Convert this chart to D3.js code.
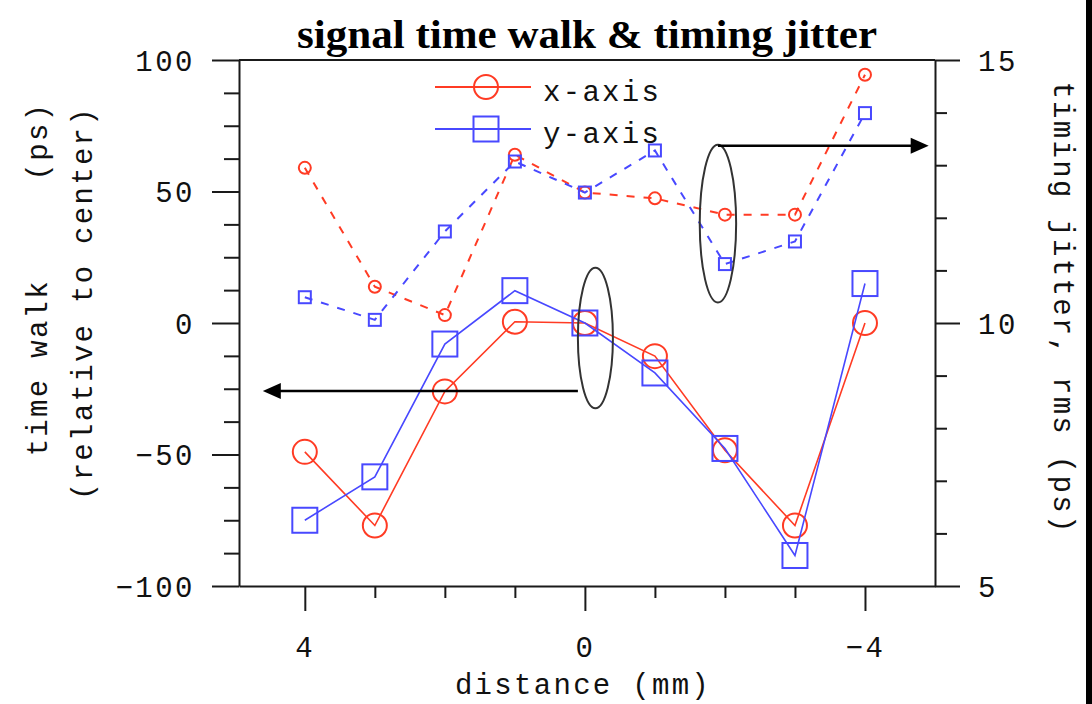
<!DOCTYPE html>
<html>
<head>
<meta charset="utf-8">
<script src="https://cdn.jsdelivr.net/npm/d3@7"></script>
<style>
  html, body { margin: 0; padding: 0; background: #fff; }
  svg { display: block; }
  .mono { font-family: "Liberation Mono", "DejaVu Sans Mono", monospace; }
</style>
</head>
<body>
<svg id="chart" width="1092" height="704"></svg>
<script>
// distance from center (mm)
const distance = [4, 3, 2, 1, 0, -1, -2, -3, -4];
// time walk relative to center (ps), left axis
const walkX = [-49, -77, -26, 0.5, 0, -12.6, -48.4, -77, 0];
const walkY = [-75, -58.5, -8, 12.3, 0, -19, -47.7, -88.4, 15];
// timing jitter, rms (ps), right axis
const jitterX = [12.95, 10.69, 10.15, 13.2, 12.48, 12.37, 12.06, 12.06, 14.72];
const jitterY = [10.49, 10.06, 11.74, 13.07, 12.48, 13.28, 11.12, 11.55, 13.99];

const seriesNames = ["x-axis", "y-axis"];
const walkTicks = [-100, -50, 0, 50, 100];
const jitterTicks = [5, 10, 15];
const distanceTicks = [4, 0, -4];

const RED = "#ff3b24";
const BLUE = "#4848ff";

const svg = d3.select("#chart");
const W = 1092, H = 704;
const plotL = 239, plotR = 935, plotT = 60, plotB = 586;

const x = d3.scaleLinear().domain([4.94, -5]).range([plotL, plotR]);
const yL = d3.scaleLinear().domain([-100, 100]).range([plotB, plotT]);
const yR = d3.scaleLinear().domain([5, 15]).range([plotB, plotT]);

const minus = d => (d < 0 ? "\u2212" + Math.abs(d) : String(d));

// frame edge on the right side of the page
svg.append("rect").attr("x", 1086).attr("y", 0).attr("width", 6).attr("height", H).attr("fill", "#000");

// title
svg.append("text")
  .attr("x", 587).attr("y", 48)
  .attr("text-anchor", "middle")
  .attr("textLength", 580).attr("lengthAdjust", "spacingAndGlyphs")
  .style("font-family", "'Liberation Serif', 'Times New Roman', serif")
  .style("font-weight", "bold")
  .style("font-size", "40px")
  .text("signal time walk & timing jitter");

// ---- axes ----
const axisStroke = "#1a1a1a";
function styleAxis(g) {
  g.selectAll("path, line").attr("stroke", axisStroke).attr("stroke-width", 2);
  g.selectAll("text")
    .attr("class", "mono")
    .style("font-size", "29px")
    .style("letter-spacing", "2.5px")
    .attr("fill", "#111");
}

// left axis
const gL = svg.append("g").attr("transform", `translate(${plotL},0)`);
gL.call(d3.axisLeft(yL).tickValues(walkTicks).tickSize(27).tickSizeOuter(0).tickPadding(17).tickFormat(minus));
gL.append("g").call(
  d3.axisLeft(yL)
    .tickValues(d3.range(-100, 100.01, 12.5).filter(v => !walkTicks.includes(v)))
    .tickSize(15).tickFormat("")
).select(".domain").remove();
gL.call(styleAxis);
gL.selectAll("text").attr("dy", "0.36em");

// right axis
const gR = svg.append("g").attr("transform", `translate(${plotR},0)`);
gR.call(d3.axisRight(yR).tickValues(jitterTicks).tickSize(25).tickSizeOuter(0).tickPadding(18).tickFormat(minus));
gR.append("g").call(
  d3.axisRight(yR)
    .tickValues(d3.range(5, 15.01, 1).filter(v => !jitterTicks.includes(v)))
    .tickSize(12).tickFormat("")
).select(".domain").remove();
gR.call(styleAxis);
gR.selectAll("text").attr("dy", "0.36em");

// bottom axis
const gB = svg.append("g").attr("transform", `translate(0,${plotB})`);
gB.call(d3.axisBottom(x).tickValues(distanceTicks).tickSize(25).tickSizeOuter(0).tickPadding(25).tickFormat(minus));
gB.append("g").call(
  d3.axisBottom(x)
    .tickValues(d3.range(-4, 4.01, 1).filter(v => !distanceTicks.includes(v)))
    .tickSize(12).tickFormat("")
).select(".domain").remove();
gB.call(styleAxis);

// top frame line
svg.append("line")
  .attr("x1", plotL).attr("x2", plotR).attr("y1", plotT).attr("y2", plotT)
  .attr("stroke", axisStroke).attr("stroke-width", 2);

// axis titles
const titleStyle = sel => sel.attr("class", "mono")
  .style("font-size", "29px").style("letter-spacing", "2.3px")
  .style("white-space", "pre").attr("fill", "#111");

svg.append("text").call(titleStyle)
  .attr("text-anchor", "middle")
  .attr("x", 583).attr("y", 694)
  .text("distance (mm)");

svg.append("text").call(titleStyle)
  .attr("text-anchor", "middle")
  .attr("transform", "translate(47,279) rotate(-90)")
  .text("time walk     (ps)");

svg.append("text").call(titleStyle)
  .attr("text-anchor", "middle")
  .attr("transform", "translate(92,303) rotate(-90)")
  .text("(relative to center)");

svg.append("text").call(titleStyle)
  .attr("text-anchor", "middle")
  .attr("transform", "translate(1054,308) rotate(90)")
  .text("timing jitter, rms (ps)");

// ---- data ----
const plot = svg.append("g");

function drawSeries(values, yScale, color, opts) {
  const pts = distance.map((d, i) => [x(d), yScale(values[i])]);
  plot.append("path")
    .attr("d", d3.line()(pts))
    .attr("fill", "none")
    .attr("stroke", color)
    .attr("stroke-width", opts.width)
    .attr("stroke-dasharray", opts.dash || null);
  const g = plot.append("g");
  if (opts.shape === "circle") {
    g.selectAll("circle").data(pts).join("circle")
      .attr("cx", p => p[0]).attr("cy", p => p[1]).attr("r", opts.size)
      .attr("fill", "none").attr("stroke", color).attr("stroke-width", 2);
  } else {
    g.selectAll("rect").data(pts).join("rect")
      .attr("x", p => p[0] - opts.size).attr("y", p => p[1] - opts.size)
      .attr("width", opts.size * 2).attr("height", opts.size * 2)
      .attr("fill", "none").attr("stroke", color).attr("stroke-width", 2);
  }
}

drawSeries(jitterX, yR, RED, { width: 2, dash: "8,9", shape: "circle", size: 6 });
drawSeries(jitterY, yR, BLUE, { width: 2, dash: "8,9", shape: "rect", size: 6 });
drawSeries(walkX, yL, RED, { width: 1.6, shape: "circle", size: 12 });
drawSeries(walkY, yL, BLUE, { width: 1.6, shape: "rect", size: 12.5 });

// ---- annotations: ellipses grouping the curves, arrows to their axis ----
const ann = svg.append("g");
function ellipse(cx, cy, rxData, ryData, yScale) {
  ann.append("ellipse")
    .attr("cx", x(cx)).attr("cy", yScale(cy))
    .attr("rx", Math.abs(x(cx + rxData) - x(cx)))
    .attr("ry", Math.abs(yScale(cy + ryData) - yScale(cy)))
    .attr("fill", "none").attr("stroke", "#333").attr("stroke-width", 2);
}
function arrow(x1, x2, yv, yScale) {
  const px1 = x(x1), px2 = x(x2), py = yScale(yv);
  const dir = px2 > px1 ? 1 : -1;
  const headLen = 18, headHalf = 8;
  ann.append("line")
    .attr("x1", px1).attr("x2", px2 - dir * headLen * 0.8)
    .attr("y1", py).attr("y2", py)
    .attr("stroke", "#000").attr("stroke-width", 2.5);
  ann.append("path")
    .attr("d", `M${px2},${py} L${px2 - dir * headLen},${py - headHalf} L${px2 - dir * headLen},${py + headHalf} Z`)
    .attr("fill", "#000");
}

ellipse(-0.15, -5.7, 0.25, 26.7, yL);
arrow(-0.15 + 0.25, 4.6, -25.9, yL);
ellipse(-1.9, 11.89, 0.26, 1.5, yR);
arrow(-1.9, -4.91, 13.37, yR);

// ---- legend ----
const legend = svg.append("g");
seriesNames.forEach((name, i) => {
  const color = i === 0 ? RED : BLUE;
  const ly = 87 + i * 42;
  legend.append("line")
    .attr("x1", 435).attr("x2", 531).attr("y1", ly).attr("y2", ly)
    .attr("stroke", color).attr("stroke-width", 2);
  if (i === 0) {
    legend.append("circle").attr("cx", 486).attr("cy", ly).attr("r", 12)
      .attr("fill", "none").attr("stroke", color).attr("stroke-width", 2);
  } else {
    legend.append("rect").attr("x", 473.5).attr("y", ly - 12.5).attr("width", 25).attr("height", 25)
      .attr("fill", "none").attr("stroke", color).attr("stroke-width", 2);
  }
  legend.append("text").call(titleStyle)
    .attr("x", 543).attr("y", ly + 14)
    .text(name);
});
</script>
</body>
</html>
